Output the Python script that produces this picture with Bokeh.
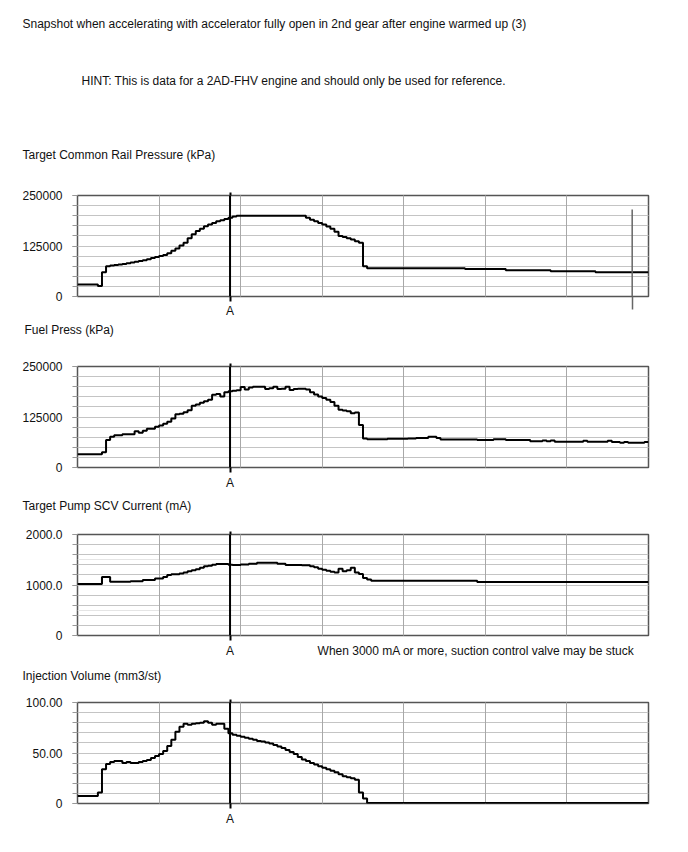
from bokeh.plotting import figure
from bokeh.models import (Range1d, FixedTicker, LinearAxis, Span, Arrow, Title, Grid)
from bokeh.layouts import column
from bokeh.embed import file_html
from bokeh.resources import INLINE

# ---------------- data ----------------
header_texts = [
    "Snapshot when accelerating with accelerator fully open in 2nd gear after engine warmed up (3)",
    "HINT: This is data for a 2AD-FHV engine and should only be used for reference.",
]
titles = [
    "Target Common Rail Pressure (kPa)",
    "Fuel Press (kPa)",
    "Target Pump SCV Current (mA)",
    "Injection Volume (mm3/st)",
]
note_text = "When 3000 mA or more, suction control valve may be stuck"
note_pos = 97.7            # sample index where the note is centred (chart 3)
marker_label = "A"
marker_pos = 37.4          # sample index of cursor A
cursor2_pos = 136          # grey cursor in first chart
n_samples = 140
grid_step = 20

y_max = [250000, 250000, 2000, 100]
y_tick_labels = [
    ["0", "125000", "250000"],
    ["0", "125000", "250000"],
    ["0", "1000.0", "2000.0"],
    ["0", "50.00", "100.00"],
]

# Target common rail pressure (kPa): change points (sample, value)
crp_t = [0, 5, 6, 7, 8, 9, 10, 11, 12, 13, 14, 15, 16, 17, 18, 19, 20, 21, 22, 23, 24,
         25, 26, 27, 28, 29, 30, 31, 32, 33, 34, 35, 36, 37, 38, 39,
         56, 57, 58, 59, 60, 61, 62, 63, 64, 65, 66, 67, 68, 69, 70, 71, 95, 105, 116, 127]
crp_v = [30000, 26000, 60000, 75000, 76500, 78000, 79000, 80500, 82000, 84000, 86000, 88000,
         90000, 92500, 95000, 98000, 100000, 103000, 107000, 113000, 119000,
         126000, 133000, 144000, 154000, 162000, 168000, 174000, 178000, 182000, 186000,
         189000, 192000, 195000, 198000, 200000,
         195000, 190000, 186000, 182000, 178000, 173000, 168000, 160000, 150000, 147000,
         144000, 141000, 137000, 133000, 75000, 70000, 68000, 65000, 62500, 60000]

# Fuel pressure (kPa)
fp_t = [0, 6, 7, 8, 9, 11, 14, 15, 16, 17, 19, 20, 21, 22, 23, 24, 25, 26, 27, 28, 29, 30,
        31, 32, 33, 34, 35, 36, 37, 38, 39, 40, 41, 42, 43, 46, 47, 48, 49, 50, 51, 52, 53,
        54, 56, 57, 58, 59, 60, 61, 62, 63, 64, 65, 66, 67, 68, 69, 70, 71, 76, 81, 83, 86,
        88, 89, 98, 102, 105, 111, 114, 115, 116, 117, 124, 125, 130, 131, 133, 134, 135, 139]
fp_v = [33000, 38000, 68000, 76000, 80000, 82000, 90000, 86000, 91000, 96000, 101000, 104000,
        108000, 113000, 121000, 132000, 133000, 137000, 142000, 153000, 156000, 160000,
        164000, 168000, 180000, 182000, 176000, 186000, 189000, 190000, 191000, 199000,
        193000, 198000, 200000, 194000, 196000, 200000, 194000, 195000, 200000, 192000,
        194000, 195000, 193000, 186000, 181000, 176000, 172000, 168000, 162000, 153000,
        143000, 141000, 139000, 134000, 136000, 105000, 72000, 70000, 71000, 72000, 73000,
        76000, 73000, 69000, 68000, 70000, 68000, 65000, 67000, 65000, 67000, 64000, 66000,
        64000, 66000, 63000, 61000, 63000, 61000, 63000]

# Target pump SCV current (mA)
scv_t = [0, 6, 8, 13, 16, 19, 21, 22, 23, 25, 26, 27, 28, 29, 30, 31, 32, 33, 34, 37, 38,
         40, 42, 44, 49, 51, 55, 57, 58, 59, 60, 61, 62, 63, 64, 65, 66, 67, 68, 69, 70, 71,
         72, 98]
scv_v = [1020, 1160, 1065, 1076, 1100, 1130, 1160, 1200, 1215, 1230, 1250, 1270, 1290, 1310,
         1340, 1370, 1380, 1400, 1415, 1400, 1395, 1405, 1420, 1440, 1420, 1395, 1390, 1370,
         1350, 1320, 1300, 1280, 1260, 1250, 1320, 1270, 1290, 1340, 1250, 1220, 1140, 1110,
         1085, 1060]

# Injection volume (mm3/st)
inj_t = [0] + list(range(5, 72))
inj_v = [7.5, 11, 34, 39, 41, 42, 42, 40, 41, 40, 40, 41, 42, 43, 45, 47, 49, 52, 57, 63,
         71, 76, 79, 78, 79, 79.5, 80, 81.5, 80, 78, 79, 79, 74, 69.5, 68, 67, 66, 65, 64, 63,
         62, 61.5, 60.5, 59.5, 58, 56.5, 55, 53, 51, 49, 46, 43.5, 42, 40, 38.5, 37, 35.5,
         34, 32.5, 31, 29, 27, 26, 25, 23.5, 11, 5, 0.5]

series = [(crp_t, crp_v), (fp_t, fp_v), (scv_t, scv_v), (inj_t, inj_v)]

# ---------------- styling / layout ----------------
FONT = "Liberation Sans"
FS = "12px"
TXT = "#111111"
FRAME_L, FRAME_R = 77, 40
FRAME_W, FRAME_H = 571, 101


def make_title(text, offset):
    return Title(text=text, align="left", offset=offset, standoff=0,
                 text_font=FONT, text_font_size=FS, text_font_style="normal",
                 text_color=TXT)


def blank_axis(tick_out, tick_color=None, tick_width=1):
    ax = LinearAxis(ticker=FixedTicker(ticks=[marker_pos]),
                    major_label_overrides={marker_pos: ""})
    ax.axis_line_color = None
    ax.major_tick_out = tick_out
    ax.major_tick_in = 0
    ax.major_tick_line_color = tick_color
    ax.major_tick_line_width = tick_width
    ax.minor_tick_line_color = None
    ax.major_label_standoff = 0
    ax.major_label_text_font_size = "1px"
    return ax


def chart_fig(idx, top, bottom, above_items, label_ticks, label_map,
              label_standoff=3, minor_cursor=None):
    ymax = y_max[idx]
    p = figure(frame_width=FRAME_W, frame_height=FRAME_H,
               x_range=Range1d(0, n_samples), y_range=Range1d(0, ymax),
               title=None, output_backend="svg", toolbar_location=None,
               min_border_left=FRAME_L, min_border_right=FRAME_R,
               min_border_top=top, min_border_bottom=bottom,
               x_axis_location=None, y_axis_location=None)
    p.outline_line_color = "#555555"
    p.outline_line_width = 1.5

    # grids
    p.add_layout(Grid(dimension=1,
                      ticker=FixedTicker(ticks=[ymax * i / 10 for i in range(1, 10)]),
                      grid_line_color="#c4c4c4", grid_line_width=1))
    p.add_layout(Grid(dimension=0,
                      ticker=FixedTicker(ticks=list(range(grid_step, n_samples, grid_step))),
                      grid_line_color="#a8a8a8", grid_line_width=1))

    # left axis
    yt = [0, ymax / 2, ymax]
    ya = LinearAxis(ticker=FixedTicker(ticks=yt, minor_ticks=[ymax * i / 10 for i in range(11)]),
                    major_label_overrides={k: s for k, s in zip(yt, y_tick_labels[idx])})
    ya.axis_line_color = None
    ya.major_tick_out = 5
    ya.major_tick_in = 0
    ya.minor_tick_out = 5
    ya.minor_tick_in = 0
    ya.major_tick_line_color = "#999999"
    ya.minor_tick_line_color = "#999999"
    ya.major_label_standoff = 10
    ya.major_label_text_font = FONT
    ya.major_label_text_font_size = FS
    ya.major_label_text_color = TXT
    p.add_layout(ya, "left")

    # cursor stub below the frame (innermost below panel)
    stub = blank_axis(5, "black", 2)
    if minor_cursor is not None:
        stub.ticker = FixedTicker(ticks=[marker_pos], minor_ticks=[minor_cursor])
        stub.minor_tick_out = 13
        stub.minor_tick_in = 0
        stub.minor_tick_line_color = "#666666"
        stub.minor_tick_line_width = 1.5
    p.add_layout(stub, "below")

    # labels below (A and optional note)
    lab = LinearAxis(ticker=FixedTicker(ticks=label_ticks), major_label_overrides=label_map)
    lab.axis_line_color = None
    lab.major_tick_line_color = None
    lab.minor_tick_line_color = None
    lab.major_tick_out = 0
    lab.major_tick_in = 0
    lab.major_label_standoff = label_standoff
    lab.major_label_text_font = FONT
    lab.major_label_text_font_size = FS
    lab.major_label_text_color = TXT
    p.add_layout(lab, "below")

    # cursor stub above the frame, then spacers and titles outward
    p.add_layout(blank_axis(3, "black", 2), "above")
    for gap, text, off in above_items:
        p.add_layout(blank_axis(gap), "above")
        p.add_layout(make_title(text, off), "above")

    p.add_layout(Span(location=marker_pos, dimension="height", line_color="black",
                      line_width=2))

    t, v = series[idx]
    xs = list(t) + [n_samples]
    ys = list(v) + [v[-1]]
    p.step(x=xs, y=ys, mode="after", line_color="black", line_width=2)
    return p


A_map = {marker_pos: marker_label}

c1 = chart_fig(0, 195, 23,
               [(31, titles[0], -55), (58, header_texts[1], 4), (41, header_texts[0], -55)],
               [marker_pos], A_map, label_standoff=-6, minor_cursor=cursor2_pos)
c1.add_layout(Arrow(end=None, x_start=cursor2_pos, x_end=cursor2_pos,
                    y_start=0, y_end=0.861 * y_max[0],
                    line_color="#666666", line_width=1.5))
c2 = chart_fig(1, 46, 25, [(27, titles[1], -53)], [marker_pos], A_map)
c3 = chart_fig(2, 42, 26, [(19, titles[2], -55)], [marker_pos, note_pos],
               {marker_pos: marker_label, note_pos: note_text})
c4 = chart_fig(3, 41, 50, [(17, titles[3], -55)], [marker_pos], A_map)

layout = column(c1, c2, c3, c4, spacing=0)

with open("out.html", "w") as f:
    f.write(file_html(layout, INLINE))
